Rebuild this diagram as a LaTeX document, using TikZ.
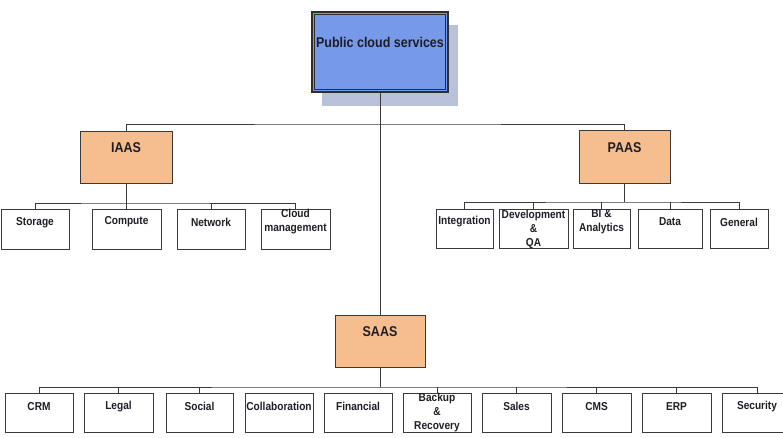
\documentclass[tikz,border=0pt]{standalone}
\usepackage{fontspec}
\setmainfont{Liberation Sans}[FakeStretch=0.88]
\definecolor{topblue}{HTML}{7799EA}
\definecolor{shadowc}{HTML}{B9C2D8}
\definecolor{orangec}{HTML}{F6BD8F}
\definecolor{linec}{HTML}{3A3A3A}
\definecolor{textc}{HTML}{1E1E28}
\begin{document}
\begin{tikzpicture}[x=1pt,y=-1pt,
  conn/.style={draw=linec, line width=0.9pt},
  leaf/.style={draw=linec, line width=0.9pt, fill=white, rectangle, inner sep=0pt, minimum height=39.5pt},
  midbox/.style={draw=linec, line width=0.9pt, fill=orangec, rectangle, inner sep=0pt},
  lbl/.style={font=\bfseries\fontsize{11.5}{14}\selectfont, text=textc, align=center, inner sep=0pt, anchor=center},
  biglbl/.style={font=\bfseries\fontsize{14.2}{17}\selectfont, text=textc, align=center, inner sep=0pt, anchor=center}]
\useasboundingbox (0,0) rectangle (783,438);
\clip (0,0) rectangle (783,438);
\fill[white] (0,0) rectangle (783,438);

% top box with shadow
\fill[shadowc] (322,25) rectangle (458,106);
\node[draw=linec!80!black, line width=1.3pt, fill=topblue, rectangle, inner sep=0pt,
      minimum width=136pt, minimum height=80pt] (top) at (380,52) {};
\draw[draw=linec!80!black, line width=0.9pt] ([shift={(3.5,3.5)}]top.north west) rectangle ([shift={(-3.5,-3.5)}]top.south east);
\node[biglbl] (top-t) at (380,42) {Public cloud services};

% second level
\node[midbox, minimum width=92pt, minimum height=52pt] (iaas) at (126,157) {};
\node[biglbl] (iaas-t) at (126,148) {IAAS};
\node[midbox, minimum width=91pt, minimum height=53pt] (paas) at (624.5,156.5) {};
\node[biglbl] (paas-t) at (624.5,148) {PAAS};
\node[midbox, minimum width=90pt, minimum height=52pt] (saas) at (380,341) {};
\node[biglbl] (saas-t) at (380,332) {SAAS};

\coordinate (tb) at (380,124);
\draw[conn] (top.south) -- (saas.north);
\draw[conn] (iaas.north) |- (tb) -| (paas.north);

% IAAS children
\foreach \nm/\xa/\xb/\ty/\txt in {st/1/69/222.5/Storage, co/92/161/222/Compute, nw/177/245/222/Network, cm/261/330/222/{Cloud\\management}}{
  \node[leaf, minimum width={\xb-\xa}] (\nm) at ({(\xa+\xb)/2},229.5) {};
  \node[lbl] (\nm-t) at ({(\xa+\xb)/2},\ty) {\txt};
}
\coordinate (ibus) at (126,203);
\draw[conn] (iaas.south) -- (ibus);
\draw[conn] (st.north) |- (ibus) -| (cm.north);
\draw[conn] (co.north) -- (co.north |- ibus);
\draw[conn] (nw.north) -- (nw.north |- ibus);

% PAAS children
\foreach \nm/\xa/\xb/\ty/\txt in {in/436/493/222/Integration, dq/499/568/229/{Development\\\&\\QA}, bi/573/630/221.5/{BI \&\\Analytics}, da/638/702/222/Data, ge/710/768/222/General}{
  \node[leaf, minimum width={\xb-\xa}] (\nm) at ({(\xa+\xb)/2},229) {};
  \node[lbl] (\nm-t) at ({(\xa+\xb)/2},\ty) {\txt};
}
\coordinate (pbus) at (624.5,202);
\draw[conn] (paas.south) -- (pbus);
\draw[conn] (in.north) |- (pbus) -| (ge.north);
\foreach \nm in {dq,bi,da}{
  \draw[conn] (\nm.north) -- (\nm.north |- pbus);
}

% SAAS children
\foreach \nm/\xa/\xb/\ty/\txt in {crm/5/73/406.5/CRM, legal/84/153/406.5/Legal, social/166/233/406.5/Social, collab/245/313/406.5/Collaboration, fin/324/392/406.5/Financial, backup/403/471/413/{Backup\\\&\\Recovery}, sales/482/551/406.5/Sales, cms/562/631/406.5/CMS, erp/642/711/406.5/ERP, sec/722/792/406.5/Security}{
  \node[leaf, minimum width={\xb-\xa}] (\nm) at ({(\xa+\xb)/2},413) {};
  \node[lbl] (\nm-t) at ({(\xa+\xb)/2},\ty) {\txt};
}
\coordinate (sbus) at (380,387);
\draw[conn] (saas.south) -- (sbus);
\draw[conn] (crm.north) |- (sbus) -| (sec.north);
\foreach \nm in {legal,social,backup,sales,cms,erp}{
  \draw[conn] (\nm.north) -- (\nm.north |- sbus);
}
\end{tikzpicture}
\end{document}
